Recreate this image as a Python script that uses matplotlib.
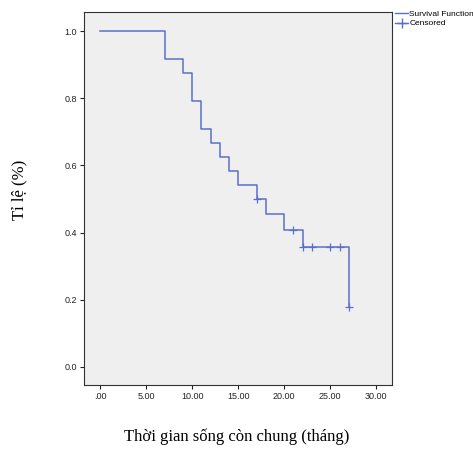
import matplotlib.pyplot as plt
from matplotlib.lines import Line2D

# Kaplan-Meier steps (time in months, survival proportion)
step_times = [0, 7, 9, 10, 11, 12, 13, 14, 15, 17, 18, 20, 22, 27]
step_surv = [1.0, 0.917, 0.875, 0.792, 0.708, 0.667, 0.625, 0.583, 0.542,
             0.500, 0.455, 0.409, 0.358, 0.179]
censor_times = [17, 21, 22, 23, 25, 26, 27]
censor_surv = [0.500, 0.409, 0.358, 0.358, 0.358, 0.358, 0.179]

x_ticks = [0, 5, 10, 15, 20, 25, 30]
x_labels = [".00", "5.00", "10.00", "15.00", "20.00", "25.00", "30.00"]
y_ticks = [0.0, 0.2, 0.4, 0.6, 0.8, 1.0]

LINE = "#5a70c8"

fig = plt.figure(figsize=(4.73, 4.53), dpi=100)
ax = fig.add_axes([0.1776, 0.1501, 0.6512, 0.8234])
ax.set_facecolor("#efefef")

ax.step(step_times, step_surv, where="post", color=LINE, linewidth=1.1)
ax.plot(censor_times, censor_surv, linestyle="none", marker="+",
        markersize=6, markeredgewidth=0.9, color=LINE)

ax.set_xlim(-1.74, 31.7)
ax.set_ylim(-0.054, 1.057)
ax.set_xticks(x_ticks)
ax.set_xticklabels(x_labels)
ax.set_yticks(y_ticks)
ax.set_yticklabels([f"{v:.1f}" for v in y_ticks])
ax.tick_params(labelsize=6.5, length=3, width=0.8, colors="#222222", pad=2)
for lbl in ax.get_xticklabels() + ax.get_yticklabels():
    lbl.set_family("Liberation Sans")
for s in ax.spines.values():
    s.set_color("#333333")
    s.set_linewidth(0.8)

fig.text(0.042, 0.58, "Tỉ lệ (%)", rotation=90, ha="center", va="center",
         family="Liberation Serif", fontsize=12)
fig.text(0.5, 0.035, "Thời gian sống còn chung (tháng)", ha="center", va="center",
         family="Liberation Serif", fontsize=12)

handles = [
    Line2D([0], [0], color=LINE, linewidth=1.0),
    Line2D([0], [0], color=LINE, linewidth=1.0, marker="+", markersize=7),
]
fig.legend(handles, ["Survival Function", "Censored"], loc="upper left",
           bbox_to_anchor=(0.828, 0.985), frameon=False,
           prop={"family": "Liberation Sans", "size": 6},
           handlelength=1.6, handletextpad=0.1, labelspacing=0.2,
           borderaxespad=0)

fig.savefig("out.png", dpi=100)
